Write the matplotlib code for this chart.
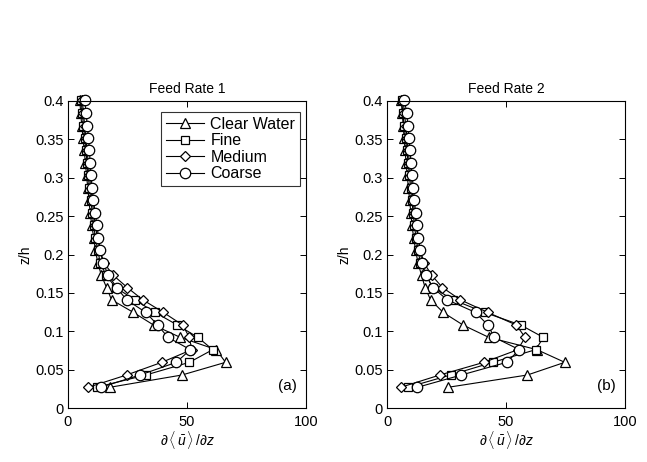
import numpy as np
import matplotlib
matplotlib.use("Agg")
import matplotlib.pyplot as plt

plt.rcParams['font.family'] = ['Liberation Sans', 'DejaVu Sans']
plt.rcParams['mathtext.fontset'] = 'custom'
plt.rcParams['mathtext.rm'] = 'Liberation Sans'
plt.rcParams['mathtext.it'] = 'Liberation Sans:italic'

z = [0.027, 0.043, 0.0595, 0.076, 0.092, 0.108, 0.1245, 0.141, 0.157, 0.173,
     0.1895, 0.206, 0.222, 0.238, 0.2545, 0.271, 0.287, 0.303, 0.3195, 0.336,
     0.352, 0.368, 0.3845, 0.401]

series_names = ["Clear Water", "Fine", "Medium", "Coarse"]

# Feed Rate 1
a_clear = [17.6, 47.9, 66.2, 62.3, 47.2, 36.0, 27.5, 18.3, 16.2, 14.0,
           12.5, 11.5, 10.8, 10.0, 9.3, 8.8, 8.3, 7.8, 7.3, 6.8, 6.3, 5.8, 5.3, 5.0]
a_fine = [12.0, 32.7, 51.0, 60.8, 54.6, 46.0, 36.6, 28.0, 20.0, 16.0,
          13.5, 12.5, 11.5, 10.8, 10.2, 9.6, 9.0, 8.5, 8.0, 7.5, 7.0, 6.5, 6.0, 5.5]
a_medium = [8.5, 24.6, 39.4, 52.0, 51.0, 48.2, 40.1, 31.4, 24.9, 19.0,
            15.0, 13.5, 12.3, 11.5, 10.8, 10.2, 9.6, 9.0, 8.5, 8.0, 7.5, 7.0, 6.5, 6.0]
a_coarse = [13.7, 30.3, 45.5, 51.4, 42.0, 37.7, 32.7, 24.6, 20.4, 17.0,
            14.6, 13.6, 12.8, 12.2, 11.4, 10.7, 10.1, 9.7, 9.3, 9.0, 8.6, 8.1, 7.6, 7.0]

# Feed Rate 2
b_clear = [25.7, 59.0, 74.7, 63.0, 42.8, 32.0, 23.6, 18.3, 16.0, 14.5,
           13.0, 12.0, 11.2, 10.5, 10.0, 9.5, 9.0, 8.5, 8.0, 7.6, 7.2, 6.8, 6.4, 6.0]
b_fine = [8.75, 26.7, 44.4, 62.5, 65.7, 56.25, 41.0, 27.8, 19.2, 16.5,
          14.0, 13.0, 12.2, 11.5, 11.0, 10.4, 9.9, 9.4, 8.9, 8.3, 7.8, 7.2, 6.6, 6.2]
b_medium = [5.8, 22.2, 40.7, 55.0, 58.0, 54.4, 42.4, 30.8, 23.3, 18.75,
            15.5, 14.0, 13.0, 12.2, 11.5, 11.0, 10.4, 9.9, 9.4, 8.9, 8.4, 7.9, 7.3, 6.8]
b_coarse = [12.8, 31.25, 50.3, 55.6, 45.1, 42.4, 37.2, 25.3, 19.2, 16.4,
            14.7, 13.9, 13.2, 12.5, 12.0, 11.5, 11.1, 10.5, 10.1, 9.7, 9.2, 8.75, 8.3, 7.3]

titles = ["Feed Rate 1", "Feed Rate 2"]
panel_labels = ["(a)", "(b)"]
xticks = [0, 50, 100]
yticks = [0, 0.05, 0.1, 0.15, 0.2, 0.25, 0.3, 0.35, 0.4]
ytick_labels = ["0", "0.05", "0.1", "0.15", "0.2", "0.25", "0.3", "0.35", "0.4"]

markers = ['^', 's', 'D', 'o']
msizes = [7.5, 5.8, 5.5, 7.5]

fig = plt.figure(figsize=(6.47, 4.62), dpi=100)
W, H = 647, 462
axes_px = [(68, 101, 306, 408), (387, 101, 625, 408)]
data = [[a_clear, a_fine, a_medium, a_coarse], [b_clear, b_fine, b_medium, b_coarse]]

for k, (x0, y0, x1, y1) in enumerate(axes_px):
    ax = fig.add_axes([x0 / W, 1 - y1 / H, (x1 - x0) / W, (y1 - y0) / H])
    for j, vals in enumerate(data[k]):
        ax.plot(vals, z, color='black', linewidth=0.8, marker=markers[j],
                markersize=msizes[j],
                markerfacecolor='white', markeredgecolor='black',
                markeredgewidth=0.9, label=series_names[j], clip_on=False)
    ax.set_xlim(0, 100)
    ax.set_ylim(0, 0.4)
    ax.set_xticks(xticks)
    ax.set_xticklabels([str(t) for t in xticks])
    ax.set_yticks(yticks)
    ax.set_yticklabels(ytick_labels)
    ax.tick_params(direction='in', top=True, right=True, length=4, width=0.7,
                   labelsize=10.5, pad=3)
    ax.tick_params(axis='x', pad=5)
    for s in ax.spines.values():
        s.set_linewidth(0.8)
    ax.set_title(titles[k], fontsize=10, pad=6)
    ax.set_ylabel("z/h", fontsize=10, labelpad=2)
    ax.set_xlabel(r'$\partial\,\langle\,\bar{u}\,\rangle\,/\partial z$', fontsize=10, labelpad=0)
    ax.text(0.96, 0.05, panel_labels[k], transform=ax.transAxes, ha='right',
            va='bottom', fontsize=11)
    if k == 0:
        leg = ax.legend(loc='upper right', bbox_to_anchor=(0.975, 0.965), fontsize=11.5,
                        frameon=True, fancybox=False, edgecolor='black',
                        handlelength=2.4, handletextpad=0.4, borderpad=0.3,
                        labelspacing=0.1, borderaxespad=0.0)
        leg.get_frame().set_linewidth(0.8)

fig.savefig("out.png", dpi=100)
